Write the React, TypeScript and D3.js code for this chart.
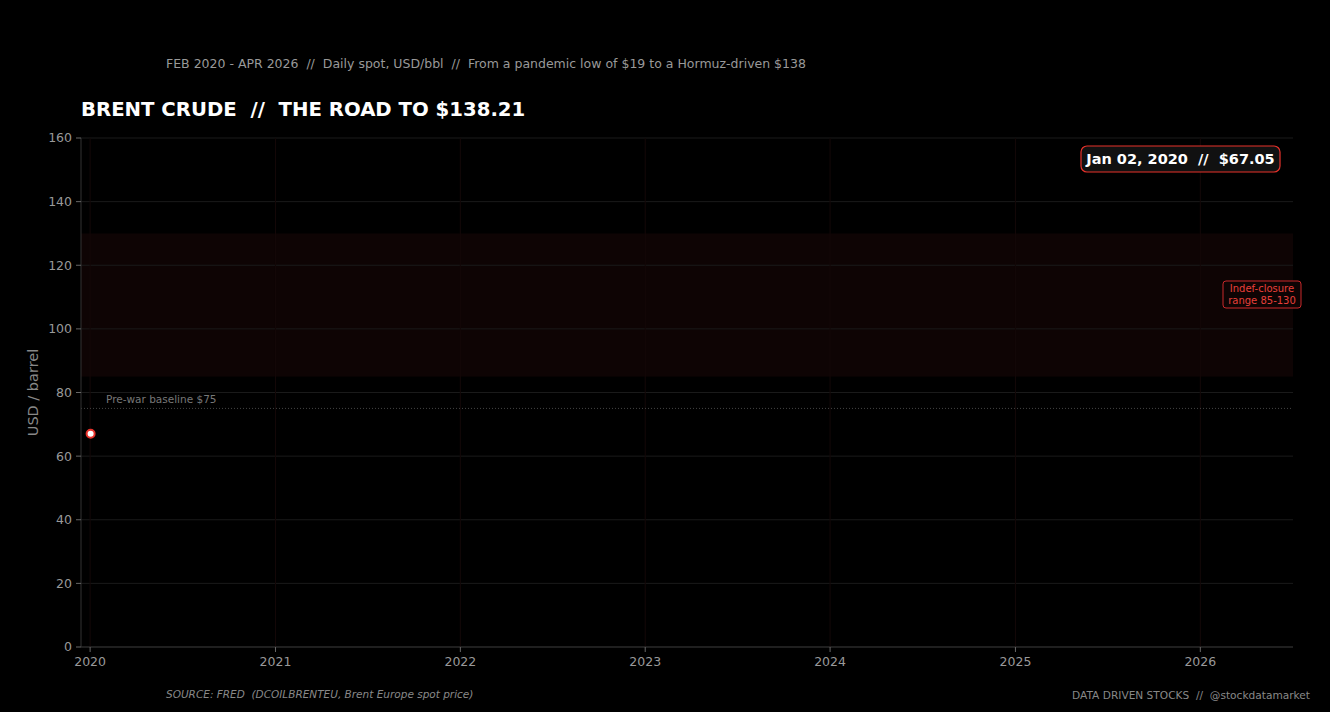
import React from "react";
import * as d3 from "d3";

const dates: string[] = ["2020-01-02"];
const prices: number[] = [67.05];
const yTicks: number[] = [0, 20, 40, 60, 80, 100, 120, 140, 160];
const yearTicks: string[] = ["2020", "2021", "2022", "2023", "2024", "2025", "2026"];
const bandRange: number[] = [85, 130];
const baseline: number[] = [75];

const W = 1330, H = 712;
const M = { left: 81, right: 1293, top: 138, bottom: 647 };

export default function App() {
  const parse = d3.timeParse("%Y-%m-%d");
  const x = d3.scaleTime()
    .domain([new Date(2019, 11, 14), new Date(2026, 6, 3)])
    .range([M.left, M.right]);
  const y = d3.scaleLinear().domain([0, 160]).range([M.bottom, M.top]);
  const pts = dates.map((d, i) => ({ d: parse(d) as Date, v: prices[i] }));
  const last = pts[pts.length - 1];
  const fmt = d3.timeFormat("%b %d, %Y");
  const font = "DejaVu Sans, sans-serif";
  const yearX = yearTicks.map((t) => x(new Date(+t, 0, 1)));
  const pre = { whiteSpace: "pre" as const };

  return (
    <svg width={W} height={H} style={{ position: "absolute", left: 0, top: 0, background: "#000" }}>
      <rect x={0} y={0} width={W} height={H} fill="#000" />
      {/* band */}
      <rect x={M.left} width={M.right - M.left} y={y(bandRange[1])} height={y(bandRange[0]) - y(bandRange[1])} fill="#0e0404" />
      {/* grid */}
      {yTicks.map((t) => (
        <line key={"gy" + t} x1={M.left} x2={M.right} y1={y(t)} y2={y(t)} stroke="#1a1a1a" strokeWidth={1} />
      ))}
      {yearX.map((xx, i) => (
        <line key={"gx" + i} x1={xx} x2={xx} y1={M.top} y2={M.bottom} stroke="#140808" strokeWidth={1} />
      ))}
      {/* baseline */}
      <line x1={M.left} x2={M.right} y1={y(baseline[0])} y2={y(baseline[0])} stroke="#555" strokeWidth={0.8} strokeDasharray="1,2" />
      <text x={106} y={y(baseline[0]) - 5} fill="#777" fontSize={10.5} fontFamily={font}>Pre-war baseline $75</text>
      {/* axes */}
      <line x1={M.left} x2={M.left} y1={M.top} y2={M.bottom} stroke="#333" />
      <line x1={M.left} x2={M.right} y1={M.bottom} y2={M.bottom} stroke="#333" />
      {yTicks.map((t) => (
        <g key={"ty" + t}>
          <line x1={M.left - 5} x2={M.left} y1={y(t)} y2={y(t)} stroke="#666" />
          <text x={M.left - 9} y={y(t)} dy="0.35em" textAnchor="end" fill="#999" fontSize={12.5} fontFamily={font}>{t}</text>
        </g>
      ))}
      {yearTicks.map((t, i) => (
        <g key={"tx" + t}>
          <line x1={yearX[i]} x2={yearX[i]} y1={M.bottom} y2={M.bottom + 5} stroke="#666" />
          <text x={yearX[i]} y={M.bottom + 19} textAnchor="middle" fill="#999" fontSize={12.5} fontFamily={font}>{t}</text>
        </g>
      ))}
      <text transform={`translate(38,${(M.top + M.bottom) / 2}) rotate(-90)`} textAnchor="middle" fill="#888" fontSize={14.5} fontFamily={font}>USD / barrel</text>
      {/* point */}
      {pts.map((p, i) => (
        <circle key={"p" + i} cx={x(p.d)} cy={y(p.v)} r={4} fill="#fff" stroke="#e8322b" strokeWidth={2} />
      ))}
      {/* band annotation */}
      <rect x={1223} y={281} width={78} height={27} rx={3} fill="#0e0404" stroke="#c8282a" strokeWidth={1} />
      <text x={1262} y={292} textAnchor="middle" fill="#e8403a" fontSize={10} fontFamily={font}>Indef-closure</text>
      <text x={1262} y={304} textAnchor="middle" fill="#e8403a" fontSize={10} fontFamily={font}>range 85-130</text>
      {/* tooltip */}
      <rect x={1081} y={146} width={199} height={26} rx={6} fill="#111" stroke="#e8322b" strokeWidth={1.2} />
      <text x={1180.5} y={164} textAnchor="middle" fill="#fff" fontSize={14.5} fontWeight="bold" fontFamily={font} style={pre}>{`${fmt(last.d)}  //  $${last.v.toFixed(2)}`}</text>
      {/* titles */}
      <text x={166} y={68} fill="#999" fontSize={12.5} fontFamily={font} style={pre}>FEB 2020 - APR 2026  //  Daily spot, USD/bbl  //  From a pandemic low of $19 to a Hormuz-driven $138</text>
      <text x={81} y={116} fill="#fff" fontSize={19.7} fontWeight="bold" fontFamily={font} style={pre}>BRENT CRUDE  //  THE ROAD TO $138.21</text>
      <text x={166} y={698} fill="#888" fontSize={10.5} fontStyle="italic" fontFamily={font} style={pre}>SOURCE: FRED  (DCOILBRENTEU, Brent Europe spot price)</text>
      <text x={1310} y={699} textAnchor="end" fill="#888" fontSize={10.6} fontFamily={font} style={pre}>DATA DRIVEN STOCKS  //  @stockdatamarket</text>
    </svg>
  );
}
